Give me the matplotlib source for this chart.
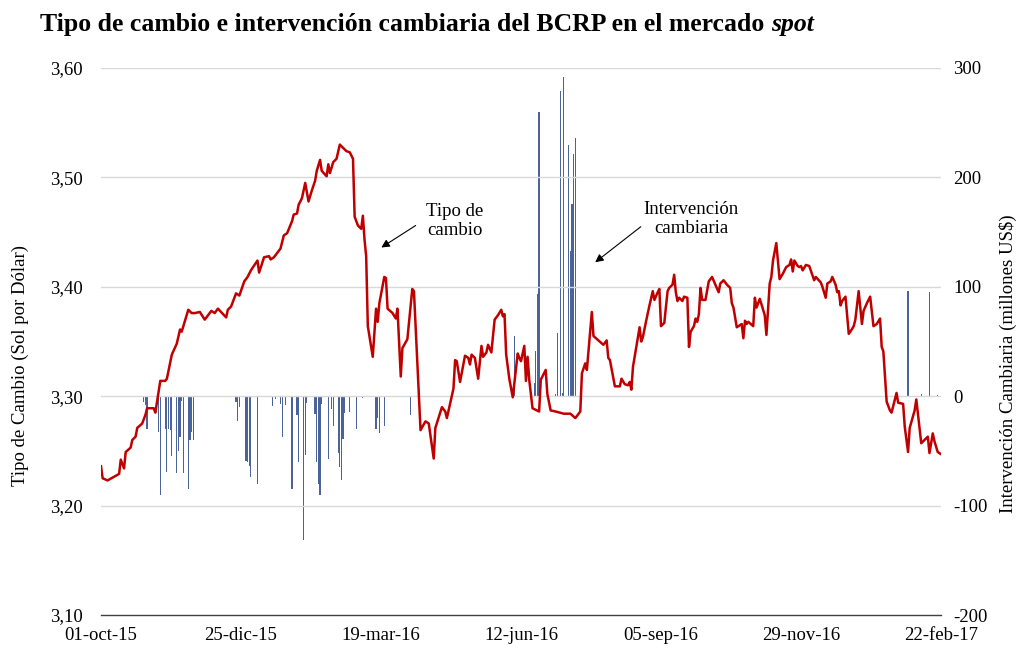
import matplotlib
matplotlib.use("Agg")
import matplotlib.pyplot as plt
import numpy as np
import pandas as pd

plt.rcParams['font.family'] = ['Liberation Serif', 'DejaVu Serif']

start = pd.Timestamp("2015-10-01")

# Exchange rate (Sol por Dólar): day offsets from 01-oct-15 and values
fx_day = [0, 1, 4, 11, 12, 14, 15, 18, 19, 21, 22, 25, 27, 28, 32, 33, 36, 39, 40, 43,
          46, 48, 49, 53, 55, 57, 60, 63, 67, 69, 71, 76, 77, 79, 82, 84, 87, 89, 91, 95,
          96, 99, 102, 103, 105, 107, 109, 111, 113, 116, 117, 119, 120, 122, 124, 126, 128, 130, 131, 133,
          134, 137, 138, 139, 141, 143, 145, 147, 149, 151, 153, 154, 156, 158, 159, 160, 161, 162, 165, 167,
          168, 169, 172, 173, 174, 177, 179, 180, 182, 183, 186, 189, 190, 194, 197, 199, 202, 203, 207, 209,
          210, 214, 215, 216, 218, 221, 223, 224, 225, 227, 229, 231, 232, 234, 235, 237, 239, 241, 243, 244,
          245, 246, 248, 250, 253, 254, 255, 257, 258, 259, 260, 262, 266, 267, 270, 271, 273, 276, 281, 285,
          288, 291, 292, 294, 295, 298, 299, 302, 305, 307, 308, 309, 312, 315, 316, 318, 320, 321, 322, 323,
          325, 327, 328, 329, 331, 333, 335, 336, 338, 339, 340, 342, 344, 345, 347, 348, 349, 350, 351, 353,
          354, 356, 357, 358, 360, 361, 362, 363, 364, 365, 367, 369, 371, 373, 375, 376, 378, 380, 382, 383,
          384, 386, 388, 389, 390, 391, 392, 393, 396, 397, 398, 400, 402, 403, 404, 406, 407, 408, 410, 411,
          412, 414, 416, 418, 419, 420, 421, 423, 424, 425, 426, 428, 430, 433, 434, 437, 438, 440, 441, 443,
          444, 446, 447, 448, 449, 450, 452, 454, 455, 457, 458, 460, 462, 463, 465, 467, 469, 471, 473, 474,
          475, 477, 479, 480, 483, 484, 487, 488, 490, 491, 494, 495, 496, 498, 500, 502, 503, 505, 506, 508,
          510]
fx_val = [3.236, 3.225, 3.223, 3.229, 3.242, 3.234, 3.249, 3.253, 3.260, 3.263, 3.271, 3.275, 3.283, 3.289, 3.289, 3.285, 3.314, 3.314, 3.316, 3.338,
          3.348, 3.361, 3.359, 3.379, 3.376, 3.376, 3.377, 3.370, 3.378, 3.376, 3.380, 3.372, 3.379, 3.382, 3.394, 3.392, 3.405, 3.409, 3.415, 3.424,
          3.413, 3.427, 3.428, 3.425, 3.427, 3.431, 3.435, 3.447, 3.449, 3.460, 3.466, 3.467, 3.475, 3.481, 3.495, 3.478, 3.488, 3.497, 3.506, 3.516,
          3.506, 3.501, 3.512, 3.504, 3.514, 3.517, 3.530, 3.527, 3.524, 3.523, 3.517, 3.464, 3.456, 3.453, 3.465, 3.443, 3.428, 3.364, 3.336, 3.380,
          3.368, 3.385, 3.409, 3.408, 3.380, 3.376, 3.371, 3.380, 3.318, 3.344, 3.352, 3.398, 3.396, 3.269, 3.277, 3.275, 3.243, 3.271, 3.290, 3.286,
          3.280, 3.307, 3.333, 3.332, 3.313, 3.337, 3.335, 3.329, 3.338, 3.335, 3.316, 3.346, 3.336, 3.340, 3.347, 3.340, 3.370, 3.374, 3.379, 3.373,
          3.375, 3.338, 3.315, 3.299, 3.339, 3.335, 3.332, 3.346, 3.314, 3.336, 3.315, 3.289, 3.286, 3.315, 3.324, 3.302, 3.287, 3.286, 3.284, 3.284,
          3.280, 3.286, 3.321, 3.330, 3.324, 3.377, 3.355, 3.351, 3.347, 3.351, 3.335, 3.333, 3.309, 3.309, 3.316, 3.311, 3.310, 3.313, 3.306, 3.327,
          3.345, 3.363, 3.350, 3.354, 3.369, 3.383, 3.396, 3.388, 3.395, 3.398, 3.364, 3.367, 3.396, 3.399, 3.402, 3.411, 3.395, 3.387, 3.390, 3.387,
          3.391, 3.390, 3.345, 3.359, 3.364, 3.371, 3.368, 3.375, 3.399, 3.388, 3.388, 3.405, 3.409, 3.402, 3.395, 3.403, 3.406, 3.402, 3.399, 3.385,
          3.381, 3.363, 3.365, 3.366, 3.353, 3.369, 3.366, 3.368, 3.364, 3.390, 3.381, 3.389, 3.379, 3.374, 3.356, 3.403, 3.409, 3.424, 3.440, 3.424,
          3.407, 3.412, 3.418, 3.420, 3.425, 3.414, 3.424, 3.419, 3.418, 3.419, 3.415, 3.420, 3.419, 3.406, 3.409, 3.404, 3.400, 3.390, 3.403, 3.405,
          3.409, 3.402, 3.395, 3.396, 3.383, 3.387, 3.391, 3.357, 3.359, 3.364, 3.370, 3.396, 3.366, 3.378, 3.385, 3.391, 3.364, 3.366, 3.371, 3.345,
          3.341, 3.295, 3.287, 3.285, 3.303, 3.294, 3.293, 3.272, 3.249, 3.271, 3.287, 3.297, 3.284, 3.257, 3.260, 3.263, 3.248, 3.266, 3.259, 3.249,
          3.247]

# BCRP spot intervention (millones US$): day offsets and values
iv_day = [26, 27, 28, 35, 36, 39, 40, 41, 42, 43, 46, 47, 48, 49, 50, 53, 54, 55, 56,
          82, 83, 84, 88, 89, 90, 91, 95, 104, 106, 109, 110, 112, 116, 119, 120, 123, 124, 125,
          130, 131, 132, 133, 134, 138, 140, 141, 144, 145, 146, 147, 148, 151, 155, 159,
          167, 168, 169, 172, 188,
          251, 263, 264, 265, 266, 276, 277, 279, 280, 281, 284, 285, 286, 287, 288,
          490, 498, 503, 508]
iv_val = [-5, -8, -30, -33, -90, -30, -69, -30, -31, -55, -70, -50, -37, -4, -70, -85, -40, -33, -40,
          -5, -23, -10, -59, -60, -64, -74, -80, -9, -3, -7, -37, -8, -85, -17, -60, -131, -54, -6,
          -16, -60, -80, -90, -7, -57, -12, -27, -52, -65, -77, -39, -15, -14, -30, -2,
          -30, -20, -34, -27, -17,
          55, 12, 41, 93, 260, 2, 58, 279, 3, 292, 230, 133, 176, 221, 236,
          96, 2, 95, 1]

x_ticklabels = ["01-oct-15", "25-dic-15", "19-mar-16", "12-jun-16",
                "05-sep-16", "29-nov-16", "22-feb-17"]
y_left_ticks = [3.10, 3.20, 3.30, 3.40, 3.50, 3.60]
y_right_ticks = [-200, -100, 0, 100, 200, 300]

fx_dates = start + pd.to_timedelta(fx_day, unit="D")
iv_dates = start + pd.to_timedelta(iv_day, unit="D")
tick_dates = [start + pd.Timedelta(days=85 * i) for i in range(len(x_ticklabels))]

W, H = 1018, 645
fig = plt.figure(figsize=(W / 100, H / 100), dpi=100)
ax = fig.add_axes([101 / W, 1 - 615 / H, 840 / W, 547 / H])
ax2 = ax.twinx()

FS = 13.5

# bars on secondary axis, drawn beneath the line
ax2.bar(iv_dates, iv_val, width=0.75, color="#4a6399", linewidth=0, zorder=2)
ax2.set_ylim(-200, 300)
ax2.set_yticks(y_right_ticks)
ax2.set_yticklabels([str(v) for v in y_right_ticks], fontsize=FS)

ax.set_zorder(ax2.get_zorder() + 1)
ax.patch.set_visible(False)
ax.plot(fx_dates, fx_val, color="#c00000", linewidth=1.8, zorder=3)
ax.set_ylim(3.10, 3.60)
ax.set_xlim(start, start + pd.Timedelta(days=510))
ax.set_yticks(y_left_ticks)
ax.set_yticklabels([f"{v:.2f}".replace(".", ",") for v in y_left_ticks], fontsize=FS)
ax.set_xticks(tick_dates)
ax.set_xticklabels(x_ticklabels, fontsize=FS)

for yv in y_left_ticks[1:]:
    ax.axhline(yv, color="#d9d9d9", linewidth=1.0, zorder=0)

for a in (ax, ax2):
    for s in a.spines.values():
        s.set_visible(False)
    a.tick_params(length=0)
ax.spines['bottom'].set_visible(True)
ax.spines['bottom'].set_color("#404040")
ax.spines['bottom'].set_linewidth(1.0)
ax.tick_params(axis='y', pad=13)
ax.tick_params(axis='x', pad=9)
ax2.tick_params(axis='y', pad=9)

fig.text(20 / W, 1 - 365 / H, "Tipo de Cambio (Sol por Dólar)", fontsize=FS,
         rotation=90, ha="center", va="center")
fig.text(1008 / W, 1 - 364 / H, "Intervención Cambiaria (millones US$)", fontsize=FS,
         rotation=90, ha="center", va="center")

t = fig.text(40 / W, 1 - 25 / H, "Tipo de cambio e intervención cambiaria del BCRP en el mercado ",
             fontsize=18.5, fontweight="bold", va="center", ha="left")
fig.canvas.draw()
bb = t.get_window_extent()
fig.text(bb.x1 / W, 1 - 25 / H, "spot", fontsize=18.5, fontweight="bold",
         style="italic", va="center", ha="left")

ax.annotate("", xy=(379 / W, 1 - 249 / H), xytext=(418 / W, 1 - 224 / H),
            xycoords="figure fraction", textcoords="figure fraction",
            arrowprops=dict(arrowstyle="-|>", color="black", lw=0.8, mutation_scale=12))
fig.text(455 / W, 1 - 221 / H, "Tipo de\ncambio", fontsize=FS, ha="center", va="center",
         linespacing=1.15)
ax.annotate("", xy=(593 / W, 1 - 264 / H), xytext=(643 / W, 1 - 225 / H),
            xycoords="figure fraction", textcoords="figure fraction",
            arrowprops=dict(arrowstyle="-|>", color="black", lw=0.8, mutation_scale=12))
fig.text(691 / W, 1 - 219 / H, "Intervención\ncambiaria", fontsize=FS, ha="center", va="center",
         linespacing=1.15)

fig.savefig("out.png", dpi=100)
